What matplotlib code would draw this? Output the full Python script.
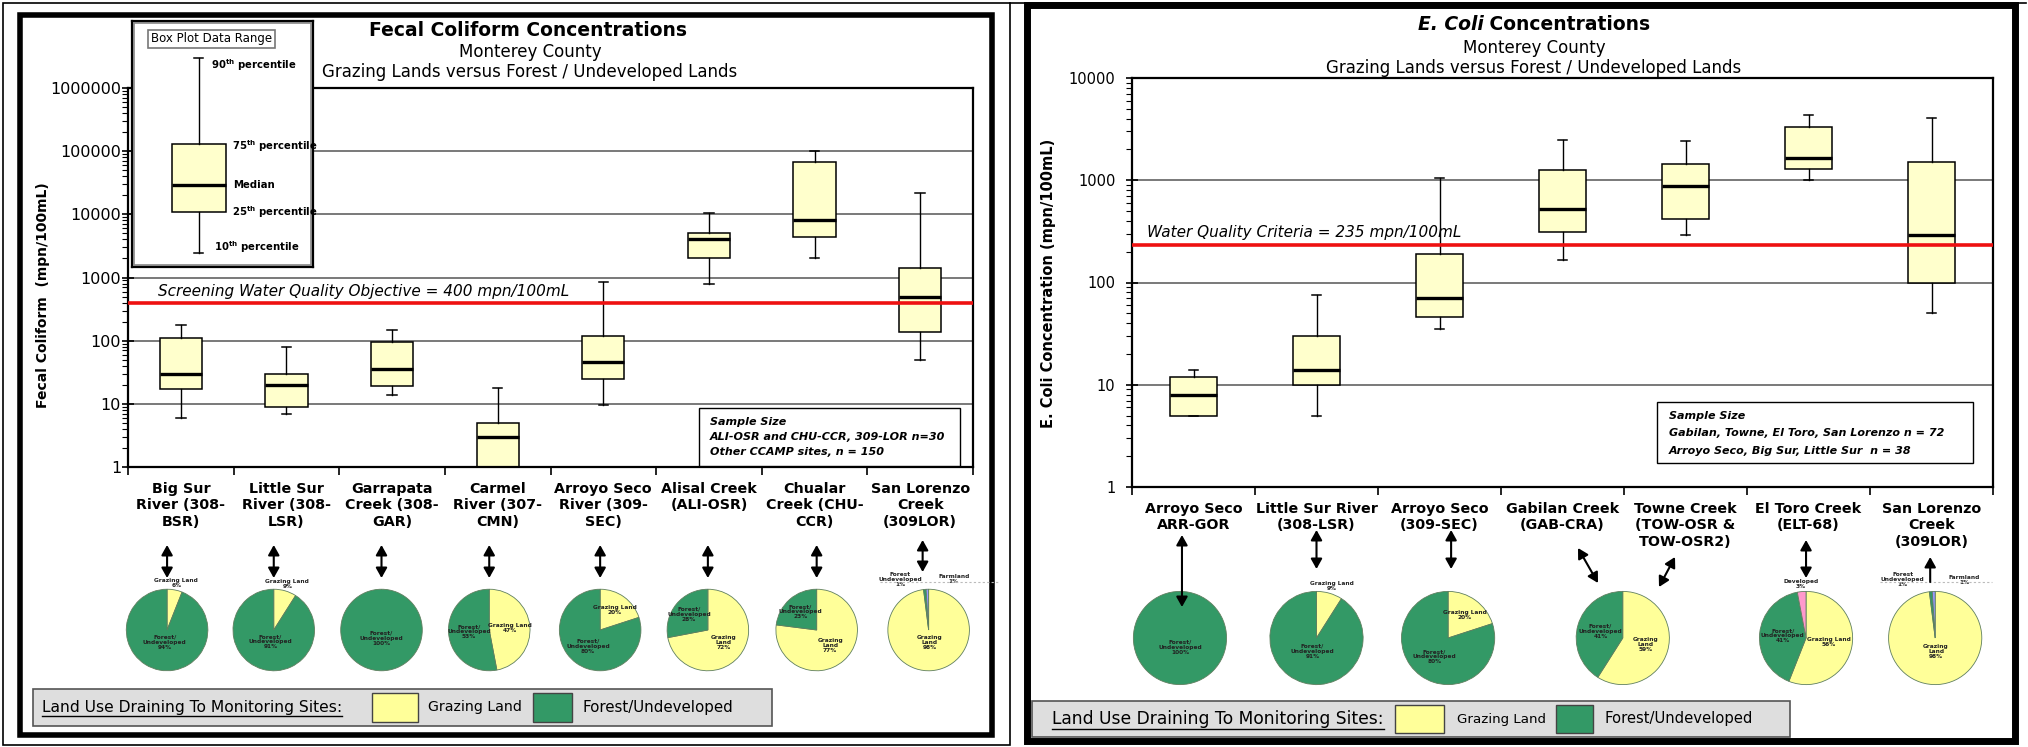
import numpy as np
import matplotlib
matplotlib.use("Agg")
import matplotlib.pyplot as plt
from matplotlib.patches import Rectangle, FancyArrowPatch, ArrowStyle
from matplotlib.lines import Line2D
from matplotlib.ticker import LogLocator, FuncFormatter, NullFormatter, FixedLocator, NullLocator

W, H, DPI = 2028, 747, 100

# ---------------- Fecal coliform (mpn/100mL) ----------------
fc_sites = ["Big Sur\nRiver (308-\nBSR)", "Little Sur\nRiver (308-\nLSR)", "Garrapata\nCreek (308-\nGAR)",
            "Carmel\nRiver (307-\nCMN)", "Arroyo Seco\nRiver (309-\nSEC)", "Alisal Creek\n(ALI-OSR)",
            "Chualar\nCreek (CHU-\nCCR)", "San Lorenzo\nCreek\n(309LOR)"]
fc_p10 = [6, 7, 14, 0.5, 9.5, 800, 2000, 50]
fc_p25 = [17, 9, 19, 0.8, 25, 2000, 4400, 135]
fc_med = [30, 20, 35, 3, 46, 4000, 8000, 500]
fc_p75 = [110, 30, 97, 5, 120, 5000, 68000, 1400]
fc_p90 = [177, 80, 150, 18, 850, 10500, 100000, 22000]
fc_objective = 400

# example box in "Box Plot Data Range" key
ex_p10, ex_p25, ex_med, ex_p75, ex_p90 = 2400, 11000, 29000, 130000, 3000000

# ---------------- E. coli (mpn/100mL) ----------------
ec_sites = ["Arroyo Seco\nARR-GOR", "Little Sur River\n(308-LSR)", "Arroyo Seco\n(309-SEC)",
            "Gabilan Creek\n(GAB-CRA)", "Towne Creek\n(TOW-OSR &\nTOW-OSR2)", "El Toro Creek\n(ELT-68)",
            "San Lorenzo\nCreek\n(309LOR)"]
ec_p10 = [4.9, 4.9, 35, 165, 290, 1000, 50]
ec_p25 = [5, 10, 46, 310, 415, 1280, 100]
ec_med = [8, 14, 70, 520, 870, 1640, 290]
ec_p75 = [12, 30, 190, 1250, 1450, 3300, 1500]
ec_p90 = [14, 75, 1050, 2500, 2400, 4300, 4100]
ec_criteria = 235

# ---------------- land use pies (percent) ----------------
fc_pie_values = [[6, 94], [9, 91], [0, 100], [47, 53], [20, 80], [72, 28], [77, 23], [98, 1, 1]]
fc_pie_kinds = [["graze", "forest"]] * 7 + [["graze", "forest", "farm"]]
fc_pie_labels = [["Grazing Land", "Forest/\nUndeveloped"]] * 5 + \
                [["Grazing\nLand", "Forest/\nUndeveloped"]] * 2 + \
                [["Grazing\nLand", "Forest\nUndeveloped", "Farmland"]]

ec_pie_values = [[0, 100], [9, 91], [20, 80], [59, 41], [56, 41, 3], [98, 1, 1]]
ec_pie_kinds = [["graze", "forest"]] * 4 + [["graze", "forest", "dev"], ["graze", "forest", "farm"]]
ec_pie_labels = [["Grazing Land", "Forest/\nUndeveloped"]] * 3 + \
                [["Grazing\nLand", "Forest/\nUndeveloped"],
                 ["Grazing Land", "Forest/\nUndeveloped", "Developed"],
                 ["Grazing\nLand", "Forest\nUndeveloped", "Farmland"]]

# ---------------- styles / layout ----------------
BOX_FILL = "#ffffcc"
COLORS = {"graze": "#ffff99", "forest": "#339966", "dev": "#ff99cc", "farm": "#9999ff"}
PIE_EDGE = "#5f7f5f"
GRID = "#555555"
LEG_GRAY = "#dedede"

fig = plt.figure(figsize=(W / DPI, H / DPI), dpi=DPI)
fig.patch.set_facecolor("white")


def fx(x):
    return x / W


def fy(y):
    return 1 - y / H


def rect_px(x0, y0, x1, y1):
    return [fx(x0), fy(y1), (x1 - x0) / W, (y1 - y0) / H]


def add_rect(x0, y0, x1, y1, lw=1.0, ec="black", fc="none", z=5):
    fig.add_artist(Rectangle((fx(x0), fy(y1)), (x1 - x0) / W, (y1 - y0) / H,
                             transform=fig.transFigure, lw=lw, edgecolor=ec,
                             facecolor=fc, zorder=z))


def add_line(x0, y0, x1, y1, lw=1.0, color="black", ls="-", z=5):
    fig.add_artist(Line2D([fx(x0), fx(x1)], [fy(y0), fy(y1)], transform=fig.transFigure,
                          lw=lw, color=color, ls=ls, zorder=z))


def add_arrow(x0, y0, x1, y1, style="<|-|>"):
    fig.add_artist(FancyArrowPatch((fx(x0), fy(y0)), (fx(x1), fy(y1)), transform=fig.transFigure,
                                   arrowstyle=ArrowStyle(style, head_length=0.5, head_width=0.28),
                                   mutation_scale=12, lw=1.5, color="black",
                                   shrinkA=0, shrinkB=0, zorder=6))


def draw_boxes(ax, p10, p25, med, p75, p90, positions, widths, capw):
    stats = [dict(whislo=a, q1=b, med=c, q3=d, whishi=e, fliers=[])
             for a, b, c, d, e in zip(p10, p25, med, p75, p90)]
    ax.bxp(stats, positions=positions, widths=widths, capwidths=capw, patch_artist=True,
           showfliers=False, manage_ticks=False,
           boxprops=dict(facecolor=BOX_FILL, edgecolor="black", linewidth=1.1),
           medianprops=dict(color="black", linewidth=2.4, solid_capstyle="butt"),
           whiskerprops=dict(color="black", linewidth=1.0),
           capprops=dict(color="black", linewidth=1.1))


def style_axes(ax, ymax, labels, ysize, ypad):
    ax.set_yscale("log")
    ax.set_ylim(1, ymax)
    ax.set_xlim(-0.5, len(labels) - 0.5)
    ax.yaxis.set_major_locator(LogLocator(base=10, numticks=12))
    ax.yaxis.set_major_formatter(FuncFormatter(lambda v, _: f"{v:.0f}"))
    ax.yaxis.set_minor_locator(LogLocator(base=10, subs=np.arange(2, 10), numticks=12))
    ax.yaxis.set_minor_formatter(NullFormatter())
    ax.xaxis.set_major_locator(FixedLocator(np.arange(-0.5, len(labels) + 0.5)))
    ax.xaxis.set_major_formatter(NullFormatter())
    ax.xaxis.set_minor_locator(FixedLocator(np.arange(len(labels))))
    ax.set_xticklabels(labels, minor=True)
    ax.tick_params(axis="x", which="major", direction="out", length=6, width=1.2)
    ax.tick_params(axis="x", which="minor", length=0, pad=11, labelsize=10.3)
    for t in ax.get_xticklabels(minor=True):
        t.set_fontweight("bold")
        t.set_linespacing(1.2)
    ax.tick_params(axis="y", which="major", direction="inout", length=8, width=1.2,
                   labelsize=ysize, pad=ypad)
    ax.tick_params(axis="y", which="minor", direction="out", length=4, width=0.8)
    ax.grid(True, axis="y", which="major", color=GRID, lw=1.1)
    ax.set_axisbelow(True)
    for s in ax.spines.values():
        s.set_linewidth(1.6)


def draw_pie(cx, cy, r, values, kinds, labels, fs=4.2):
    pax = fig.add_axes(rect_px(cx - r, cy - r, cx + r, cy + r))
    wedges, _ = pax.pie(values, colors=[COLORS[k] for k in kinds], startangle=90,
                        counterclock=False, radius=1,
                        wedgeprops=dict(edgecolor=PIE_EDGE, linewidth=0.6))
    pax.set_xlim(-1.03, 1.03)
    pax.set_ylim(-1.03, 1.03)
    pax.axis("off")
    total = float(sum(values))
    for w, v, lab in zip(wedges, values, labels):
        if v == 0:
            continue
        frac = v / total
        mid = ((w.theta1 + w.theta2) / 2.0) % 360.0
        m = np.deg2rad(mid)
        if frac > 0.999:
            x, y = 0.0, -0.2
        elif frac > 0.85:
            x, y = 0.3 * np.cos(m), 0.3 * np.sin(m)
        elif frac >= 0.3:
            x, y = 0.5 * np.cos(m), 0.5 * np.sin(m)
        elif frac >= 0.15:
            x, y = 0.6 * np.cos(m), 0.6 * np.sin(m)
        elif frac >= 0.03:
            x, y = 1.2 * np.cos(m), 1.17 * np.sin(m)
        else:
            x, y = (-0.7 if mid > 92 else 0.62), 1.25
        pax.text(x, y, f"{lab}\n{v}%", ha="center", va="center", fontsize=fs,
                 fontweight="bold", linespacing=1.0, color="#222222")
    return pax


# ---------------- panel frames ----------------
add_rect(3, 3, 1010, 745, lw=1.2, z=0)
add_line(1010, 3, 2026, 3, lw=1.2, z=0)
add_rect(20, 15, 992, 735, lw=4.0, z=0)
add_rect(1027, 5, 2015, 741, lw=5.0, z=0)

# ================= LEFT PANEL =================
L0, T0, R0, B0 = 128, 88, 973, 467
axL = fig.add_axes(rect_px(L0, T0, R0, B0))
style_axes(axL, 1e6, fc_sites, 11.5, 1)
draw_boxes(axL, fc_p10, fc_p25, fc_med, fc_p75, fc_p90, np.arange(len(fc_sites)), 0.4, 0.09)
axL.axhline(fc_objective, color="#ee1111", lw=2.6, zorder=3)
axL.annotate("Screening Water Quality Objective = 400 mpn/100mL", xy=(0.036, fc_objective),
             xycoords=("axes fraction", "data"), xytext=(0, 8), textcoords="offset points",
             ha="left", va="center", fontsize=11, style="italic")

fig.text(fx(528), fy(30), "Fecal Coliform Concentrations", ha="center", va="center",
         fontsize=13.5, fontweight="bold")
fig.text(fx(530), fy(52), "Monterey County", ha="center", va="center", fontsize=12)
fig.text(fx(530), fy(72), "Grazing Lands versus Forest / Undeveloped Lands", ha="center",
         va="center", fontsize=12)
fig.text(fx(43), fy(295), "Fecal Coliform  (mpn/100mL)", rotation=90, ha="center",
         va="center", fontsize=10, fontweight="bold")

# box plot key
IL, IT, IR, IB = 132, 21, 313, 267
axI = fig.add_axes(rect_px(IL, IT, IR, IB))
axI.set_yscale("log")
dec = (B0 - T0) / 6.0
axI.set_ylim(10 ** ((B0 - IB) / dec), 10 ** ((B0 - IT) / dec))
axI.set_xlim(0, 1)
draw_boxes(axI, [ex_p10], [ex_p25], [ex_med], [ex_p75], [ex_p90], [0.37], 0.3, 0.05)
axI.set_xticks([])
axI.yaxis.set_major_locator(NullLocator())
axI.yaxis.set_minor_locator(NullLocator())
for s in axI.spines.values():
    s.set_linewidth(1.6)
axI.add_patch(Rectangle((0.012, 0.008), 0.976, 0.984, transform=axI.transAxes, fill=False,
                        ec="#888888", lw=1.2))
axI.text(0.44, 0.927, "Box Plot Data Range", transform=axI.transAxes, ha="center", va="center",
         fontsize=8.5, bbox=dict(boxstyle="square,pad=0.25", fc="white", ec="#777777", lw=1.2))
key_txt = [("90$^{\\mathbf{th}}$ percentile", 0.436, ex_p90, -7),
           ("75$^{\\mathbf{th}}$ percentile", 0.552, ex_p75, -2),
           ("Median", 0.558, ex_med, 0),
           ("25$^{\\mathbf{th}}$ percentile", 0.552, ex_p25, 0),
           ("10$^{\\mathbf{th}}$ percentile", 0.453, ex_p10, 6)]
for s, xx, yy, off in key_txt:
    axI.annotate(s, xy=(xx, yy), xycoords=("axes fraction", "data"), xytext=(0, off * 0.72),
                 textcoords="offset points", ha="left", va="center", fontsize=7.3,
                 fontweight="bold")

# sample size box (left)
add_rect(699, 408, 960, 466, lw=1.0, fc="white", z=5)
for s, yy in zip(["Sample Size", "ALI-OSR and CHU-CCR, 309-LOR n=30", "Other CCAMP sites, n = 150"],
                 [422, 437, 452]):
    fig.text(fx(710), fy(yy), s, ha="left", va="center", fontsize=8, fontweight="bold",
             style="italic", zorder=6)

# pies (left)
fc_pie_slots = [-0.13, 0.88, 1.9, 2.92, 3.97, 4.99, 6.02, 7.08]
for slot, vals, kinds, labs in zip(fc_pie_slots, fc_pie_values, fc_pie_kinds, fc_pie_labels):
    cx = L0 + (slot + 0.5) * (R0 - L0) / len(fc_sites)
    draw_pie(cx, 630, 42, vals, kinds, labs)
    if slot < 7:
        add_arrow(cx, 545, cx, 578)
    else:
        add_arrow(cx - 6, 540, cx - 6, 572)
add_line(880, 582, 1000, 582, lw=0.8, color="#bbbbbb", ls=(0, (2, 2)))

# ================= RIGHT PANEL =================
L1, T1, R1, B1 = 1132, 78, 1993, 487
axR = fig.add_axes(rect_px(L1, T1, R1, B1))
style_axes(axR, 1e4, ec_sites, 10.5, 8)
draw_boxes(axR, ec_p10, ec_p25, ec_med, ec_p75, ec_p90, np.arange(len(ec_sites)), 0.39, 0.08)
axR.axhline(ec_criteria, color="#ee1111", lw=2.6, zorder=3)
axR.annotate("Water Quality Criteria = 235 mpn/100mL", xy=(0.0174, ec_criteria),
             xycoords=("axes fraction", "data"), xytext=(0, 8.5), textcoords="offset points",
             ha="left", va="center", fontsize=11, style="italic")

fig.text(fx(1534), fy(48), "Monterey County", ha="center", va="center", fontsize=12)
fig.text(fx(1534), fy(68), "Grazing Lands versus Forest / Undeveloped Lands", ha="center",
         va="center", fontsize=12)
fig.text(fx(1048), fy(283), "E. Coli Concentration (mpn/100mL)", rotation=90, ha="center",
         va="center", fontsize=10.5, fontweight="bold")

renderer = fig.canvas.get_renderer()
t1 = fig.text(0, fy(25), "E. Coli", ha="left", va="center", fontsize=13.5, fontweight="bold",
              style="italic")
t2 = fig.text(0, fy(25), " Concentrations", ha="left", va="center", fontsize=13.5,
              fontweight="bold")
w1 = t1.get_window_extent(renderer).width
w2 = t2.get_window_extent(renderer).width
start = 1534 - (w1 + w2) / 2
t1.set_x(fx(start))
t2.set_x(fx(start + w1))

add_rect(1657, 402, 1973, 463, lw=1.0, fc="white", z=5)
for s, yy in zip(["Sample Size", "Gabilan, Towne, El Toro, San Lorenzo n = 72",
                  "Arroyo Seco, Big Sur, Little Sur  n = 38"], [416, 433, 451]):
    fig.text(fx(1669), fy(yy), s, ha="left", va="center", fontsize=8, fontweight="bold",
             style="italic", zorder=6)

ec_pie_slots = [-0.11, 1.0, 2.07, 3.49, 4.98, 6.03]
ec_pie_x = []
for slot, vals, kinds, labs in zip(ec_pie_slots, ec_pie_values, ec_pie_kinds, ec_pie_labels):
    cx = L1 + (slot + 0.5) * (R1 - L1) / len(ec_sites)
    ec_pie_x.append(cx)
    draw_pie(cx, 638, 48, vals, kinds, labs)
add_arrow(ec_pie_x[0] + 2, 535, ec_pie_x[0] + 2, 607)
add_arrow(ec_pie_x[1], 530, ec_pie_x[1], 569)
add_arrow(ec_pie_x[2] + 3, 530, ec_pie_x[2] + 3, 569)
add_arrow(1578, 548, 1598, 583)
add_arrow(1675, 557, 1659, 587)
add_arrow(ec_pie_x[4], 540, ec_pie_x[4], 578)
add_arrow(ec_pie_x[5] - 5, 582, ec_pie_x[5] - 5, 557, style="-|>")
add_line(1880, 582, 1992, 582, lw=0.8, color="#bbbbbb", ls=(0, (2, 2)))


# ---------------- land-use legends ----------------
def land_legend(box, tx, sq_y, sq1, gx, sq2, fxx, fs_title, fs_g, fs_f):
    x0, y0, x1, y1 = box
    add_rect(x0, y0, x1, y1, lw=1.2, ec="#555555", fc=LEG_GRAY, z=2)
    yc = (y0 + y1) / 2.0
    t = fig.text(fx(tx), fy(yc), "Land Use Draining To Monitoring Sites:", ha="left",
                 va="center", fontsize=fs_title, zorder=6)
    bb = t.get_window_extent(renderer)
    add_line(bb.x0, H - bb.y0 + 1, bb.x1, H - bb.y0 + 1, lw=1.0, z=6)
    add_rect(sq1[0], sq_y[0], sq1[1], sq_y[1], lw=1.0, ec="#444444", fc=COLORS["graze"], z=6)
    fig.text(fx(gx), fy(yc), "Grazing Land", ha="left", va="center", fontsize=fs_g, zorder=6)
    add_rect(sq2[0], sq_y[0], sq2[1], sq_y[1], lw=1.0, ec="#444444", fc=COLORS["forest"], z=6)
    fig.text(fx(fxx), fy(yc), "Forest/Undeveloped", ha="left", va="center", fontsize=fs_f,
             zorder=6)


land_legend((33, 689, 772, 726), 42, (693, 722), (372, 418), 428, (533, 572), 583,
            11.2, 10.2, 10.8)
land_legend((1032, 701, 1790, 737), 1052, (705, 733), (1395, 1444), 1457, (1556, 1593), 1604,
            12.3, 9.6, 10.6)

fig.savefig("out.png", dpi=DPI, facecolor="white")
